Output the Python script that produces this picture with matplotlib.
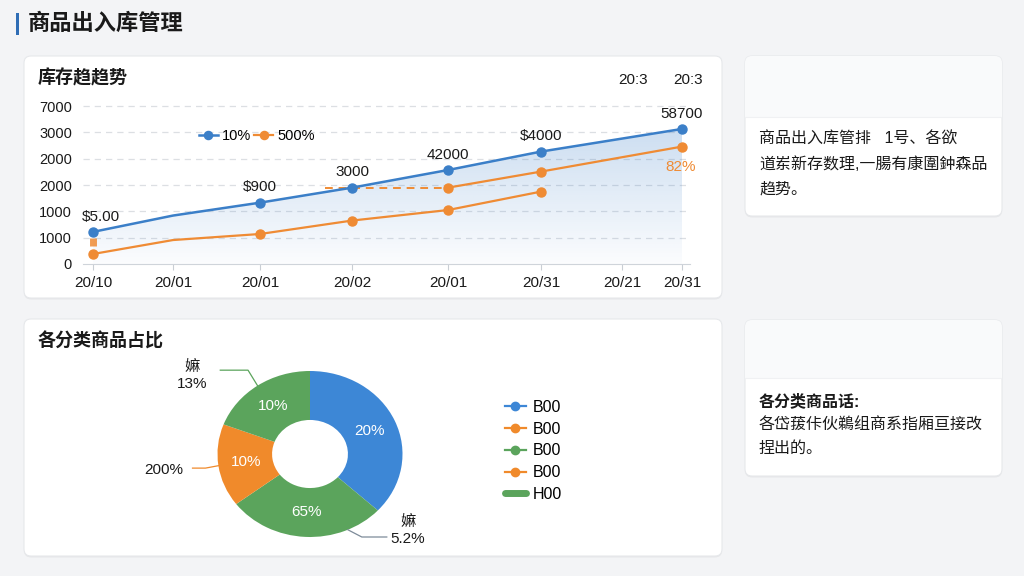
import numpy as np
import matplotlib
matplotlib.use("Agg")
import matplotlib.pyplot as plt
from matplotlib.patches import FancyBboxPatch, Rectangle
from matplotlib.lines import Line2D

plt.rcParams['font.family'] = ['Liberation Sans', 'Noto Sans CJK SC', 'DejaVu Sans']

# ---------------- data ----------------
page_title = "商品出入库管理"
trend_title = "库存趋趋势"
x_pos = [0.0, 0.80, 1.67, 2.59, 3.55, 4.48, 5.29, 5.89]
x_labels = ["20/10", "20/01", "20/01", "20/02", "20/01", "20/31", "20/21", "20/31"]
y_levels = [0, 1, 2, 3, 4, 5, 6]
y_labels = ["0", "1000", "1000", "2000", "2000", "3000", "7000"]

blue_x = [0.0, 0.80, 1.67, 2.59, 3.55, 4.48, 5.89]
blue_y = [1.22, 1.84, 2.33, 2.90, 3.57, 4.27, 5.13]
blue_marker_idx = [0, 2, 3, 4, 5, 6]
blue_labels = ["\\$5.00", "", "\\$900", "3000", "42000", "\\$4000", "58700"]

orange_x = [0.0, 0.80, 1.67, 2.59, 3.55, 4.48]
orange_y = [0.38, 0.91, 1.14, 1.65, 2.05, 2.75]
orange_marker_idx = [0, 2, 3, 4, 5]

orange2_x = [2.32, 3.55, 4.48, 5.89]
orange2_y = [2.90, 2.90, 3.51, 4.46]
orange2_label = "82%"
orange_stub_x = [0.0, 0.0]
orange_stub_y = [0.70, 1.00]

legend_labels = ["10%", "500%"]
corner_labels = ["20:3", "20:3"]

pie_title = "各分类商品占比"
pie_values = [36.9, 27.8, 16.1, 19.2]          # clockwise from top
pie_inner_labels = ["20%", "65%", "10%", "10%"]
pie_outer_texts = ["嫲\n13%", "200%", "嫲\n5.2%"]
pie_legend_labels = ["B00", "B00", "B00", "B00", "H00"]

note1_lines = ["商品出入库管排   1号、各欲", "道岽新存数理,一腸有康圍鈡森品", "趋势。"]
note2_lines = ["各分类商品话:", "各岱菝佧伙鵜组商系指厢亘接改", "捏出的。"]

# ---------------- style ----------------
BLUE = "#3b7fc8"
ORANGE = "#ef8b34"
P_BLUE = "#3d87d6"
P_GREEN = "#5ba45c"
P_ORANGE = "#f08a2b"
TXT = "#1a1a1a"
BG = "#f3f4f6"

fig = plt.figure(figsize=(10.24, 5.76), dpi=100)
fig.patch.set_facecolor(BG)

W, H = 1024, 576
def fr(x0, y0, x1, y1):
    return [x0 / W, 1 - y1 / H, (x1 - x0) / W, (y1 - y0) / H]

# background axes in pixel coords
bg = fig.add_axes([0, 0, 1, 1], zorder=0)
bg.set_xlim(0, W)
bg.set_ylim(H, 0)
bg.axis("off")

def card(x0, y0, x1, y1):
    sh = FancyBboxPatch((x0, y0 + 1.5), x1 - x0, y1 - y0,
                        boxstyle="round,pad=0,rounding_size=7",
                        fc="#000000", ec="none", alpha=0.05)
    bg.add_patch(sh)
    p = FancyBboxPatch((x0, y0), x1 - x0, y1 - y0,
                       boxstyle="round,pad=0,rounding_size=7",
                       fc="white", ec="#e6e8eb", lw=0.8)
    bg.add_patch(p)
    return p

card(24, 56, 722, 298)
c2 = card(745, 56, 1002, 216)
card(24, 319, 722, 556)
c4 = card(745, 320, 1002, 476)
for c, (y0, y1) in ((c2, (56, 117)), (c4, (320, 378))):
    top = Rectangle((745, y0), 257, y1 - y0, fc="#f9fafb", ec="none")
    bg.add_patch(top)
    top.set_clip_path(c)
    bg.plot([746, 1001], [y1, y1], color="#f0f1f3", lw=0.8)

# page title
bg.add_patch(Rectangle((16, 13), 3, 22, fc="#2f6db5", ec="none"))
bg.text(28, 24, page_title, fontsize=16, fontweight="bold", color=TXT, va="center", ha="left")
bg.text(38, 78, trend_title, fontsize=13, fontweight="bold", color=TXT, va="center", ha="left")
bg.text(38, 341, pie_title, fontsize=13, fontweight="bold", color=TXT, va="center", ha="left")
for xc, s in zip([633, 688], corner_labels):
    bg.text(xc, 80, s, fontsize=11, color=TXT, ha="center", va="center")

# note cards
for i, s in enumerate(note1_lines):
    bg.text(759, 139 + i * 25, s, fontsize=11.5, color=TXT, ha="left", va="center",
            fontweight="medium" if i == 0 else "normal")
for i, s in enumerate(note2_lines):
    bg.text(759, 401 + i * 23.5, s, fontsize=11.5, color=TXT, ha="left", va="center",
            fontweight="bold" if i == 0 else "normal")

# ---------------- line chart ----------------
ax = fig.add_axes(fr(83, 100, 690, 264), zorder=2)
ax.set_facecolor("none")

# gradient fill under blue line
bx = np.array(blue_x); byv = np.array(blue_y)
poly = ax.fill_between(bx, byv, 0, color="none", lw=0)
grad = np.zeros((256, 2, 4))
c = matplotlib.colors.to_rgb(BLUE)
grad[..., 0], grad[..., 1], grad[..., 2] = c
alpha = np.linspace(0.26, 0.02, 256)
grad[..., 3] = alpha[:, None]
im = ax.imshow(grad, extent=[bx.min(), bx.max(), 0, byv.max()], origin="upper",
               aspect="auto", zorder=1, interpolation="bilinear")
path = poly.get_paths()[0]
im.set_clip_path(path, transform=ax.transData)
ax.set_xlim(-0.10, 5.97)
ax.set_ylim(0, 6.23)

for yv in y_levels[1:]:
    ax.axhline(yv, color="#dcdfe3", lw=0.9, ls=(0, (5, 4)), zorder=0.5)

l_blue, = ax.plot(blue_x, blue_y, color=BLUE, lw=1.8, marker="o", ms=6.5,
                  markevery=blue_marker_idx, zorder=4)
l_or, = ax.plot(orange_x, orange_y, color=ORANGE, lw=1.6, marker="o", ms=6.5,
                markevery=orange_marker_idx, zorder=3)
ax.plot(orange2_x[:2], orange2_y[:2], color=ORANGE, lw=1.4, ls=(0, (4, 3)), zorder=3)
ax.plot(orange2_x[1:], orange2_y[1:], color=ORANGE, lw=1.6, marker="o", ms=6.5, zorder=3)
ax.plot(orange_stub_x, orange_stub_y, color=ORANGE, lw=5, ls=(0, (1.2, 0.5)), zorder=3,
        alpha=0.85)

for xv, yv, s in zip(blue_x, blue_y, blue_labels):
    if s:
        dx = 6 if xv == blue_x[0] else 0
        ax.annotate(s, (xv, yv), xytext=(dx, 11), textcoords="offset points",
                    ha="center", va="center", fontsize=11, color=TXT, zorder=6)
ax.annotate(orange2_label, (orange2_x[-1], orange2_y[-1]), xytext=(-1, -14.5),
            textcoords="offset points", ha="center", va="center", fontsize=11,
            color=ORANGE, zorder=6)

ax.set_xticks(x_pos)
ax.set_xticklabels(x_labels, fontsize=11, color=TXT)
ax.set_yticks(y_levels)
ax.set_yticklabels(y_labels, fontsize=10.5, color=TXT)
ax.tick_params(axis="y", length=0, pad=8)
ax.tick_params(axis="x", length=4, color="#c9ced4", pad=5)
for s in ["top", "right", "left"]:
    ax.spines[s].set_visible(False)
ax.spines["bottom"].set_color("#cfd4da")

ax.legend([l_blue, l_or], legend_labels, loc="center",
          bbox_to_anchor=(257 / W, 1 - 136 / H), bbox_transform=fig.transFigure,
          ncol=2, frameon=False, handlelength=1.3, columnspacing=0.2,
          handletextpad=0.3, fontsize=10.5, markerscale=0.9)

# ---------------- donut ----------------
cx, cy, rx, ry = 310, 454, 92.5, 83
pax = fig.add_axes(fr(24, 319, 722, 556), zorder=2)
pax.set_facecolor("none")
wedges, _ = pax.pie(pie_values, colors=[P_BLUE, P_GREEN, P_ORANGE, P_GREEN],
                    startangle=90, counterclock=False, radius=1,
                    wedgeprops=dict(width=0.59, edgecolor="none"))
pax.set_aspect("auto")
pax.set_xlim((24 - cx) / rx, (722 - cx) / rx)
pax.set_ylim((cy - 556) / ry, (cy - 319) / ry)
pax.axis("off")

for w, s in zip(wedges, pie_inner_labels):
    ang = np.deg2rad((w.theta1 + w.theta2) / 2)
    pax.text(0.70 * np.cos(ang), 0.70 * np.sin(ang), s, ha="center", va="center",
             fontsize=11, color="white")

def leader(angle_deg, elbow, end, color):
    a = np.deg2rad(angle_deg)
    pax.plot([np.cos(a), elbow[0], end[0]], [np.sin(a), elbow[1], end[1]],
             color=color, lw=0.9, clip_on=False)

w_top, w_or, w_bot = wedges[3], wedges[2], wedges[1]
leader((w_top.theta1 + w_top.theta2) / 2, (-0.67, 1.01), (-0.97, 1.01), P_GREEN)
pax.text(-1.27, 0.95, pie_outer_texts[0], ha="center", va="center", fontsize=11,
         color=TXT, linespacing=1.25)
leader((w_or.theta1 + w_or.theta2) / 2, (-1.13, -0.17), (-1.27, -0.17), P_ORANGE)
pax.text(-1.37, -0.19, pie_outer_texts[1], ha="right", va="center", fontsize=11, color=TXT)
bot_angle = w_bot.theta1 + 0.77 * (w_bot.theta2 - w_bot.theta1)
leader(bot_angle, (0.56, -1.0), (0.83, -1.0), "#7d8b99")
pax.text(1.06, -0.92, pie_outer_texts[2], ha="center", va="center", fontsize=11,
         color=TXT, linespacing=1.25)

p_handles = [Line2D([], [], color=P_BLUE, marker="o", lw=1.6, ms=6),
             Line2D([], [], color=P_ORANGE, marker="o", lw=1.6, ms=6),
             Line2D([], [], color=P_GREEN, marker="o", lw=1.6, ms=6),
             Line2D([], [], color=P_ORANGE, marker="o", lw=1.6, ms=6),
             Line2D([], [], color=P_GREEN, lw=5, solid_capstyle="round")]
fig.legend(p_handles, pie_legend_labels, loc="upper left",
           bbox_to_anchor=(497 / W, 1 - 392 / H), frameon=False, fontsize=11.5,
           handlelength=1.3, handletextpad=0.45, labelspacing=0.42, borderpad=0)

fig.savefig("out.png", dpi=100, facecolor=fig.get_facecolor())
